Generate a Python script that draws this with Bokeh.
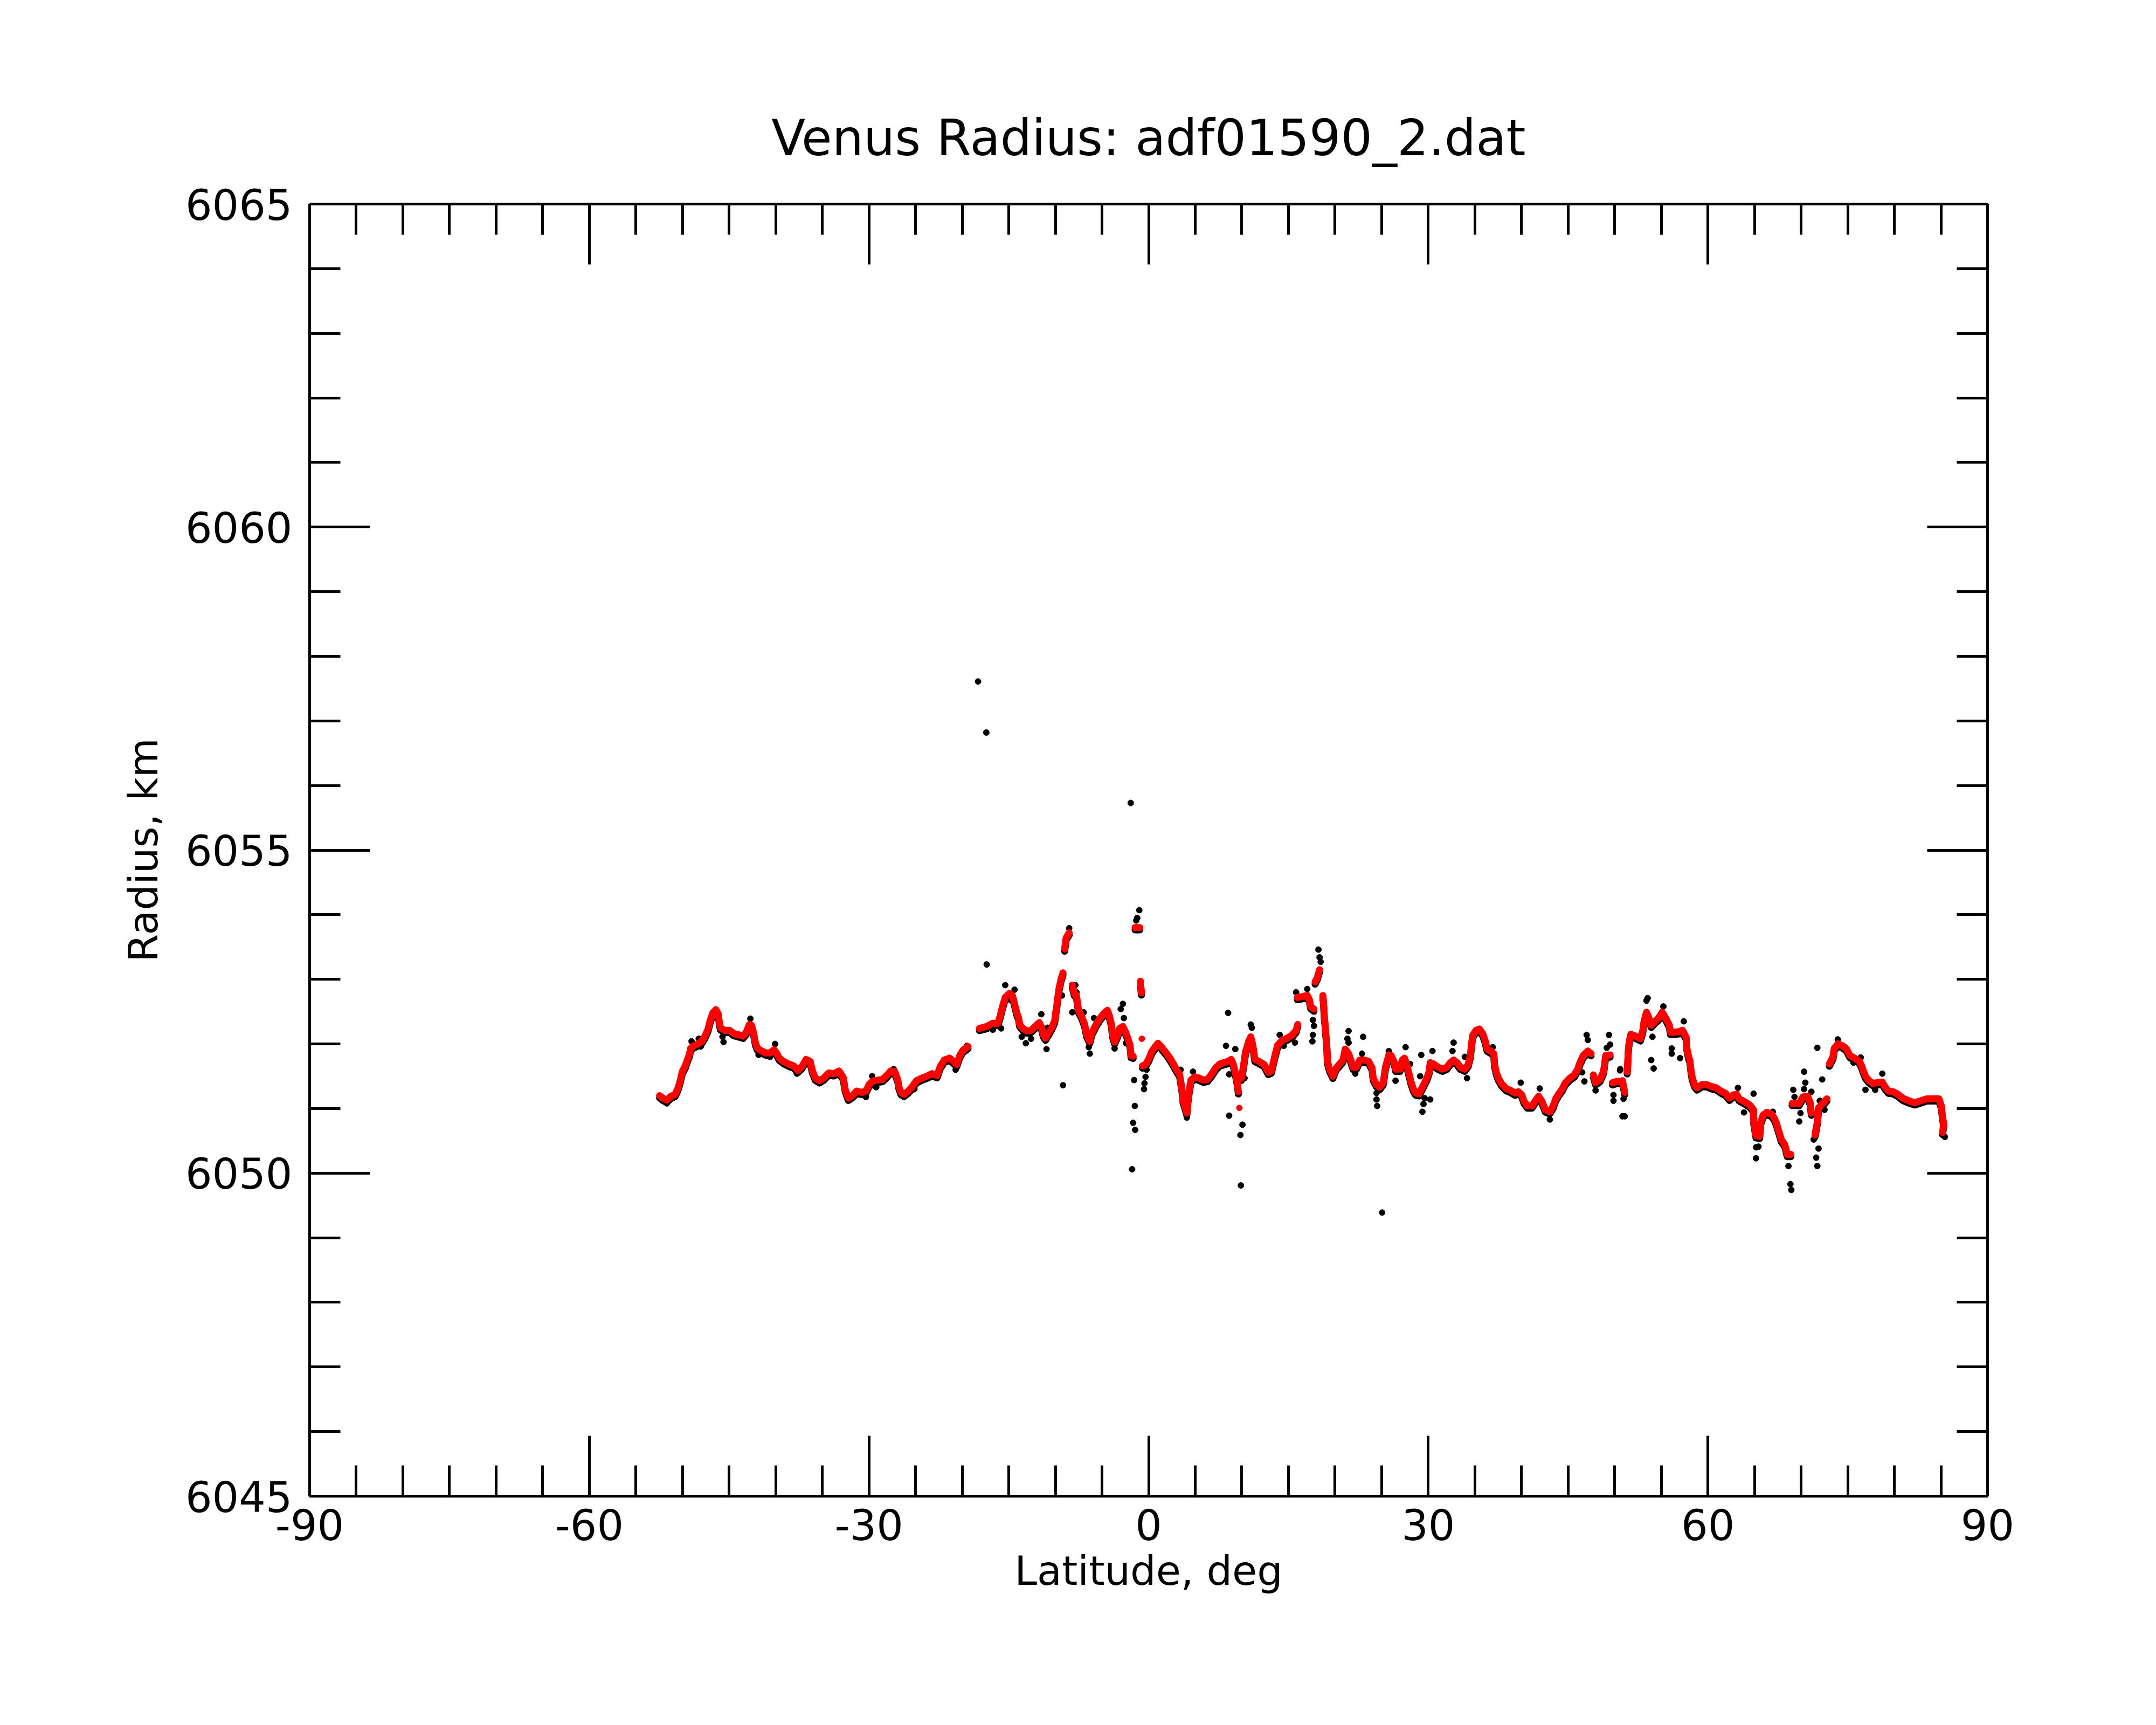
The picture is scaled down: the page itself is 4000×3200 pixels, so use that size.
import math
from bokeh.plotting import figure
from bokeh.models import Range1d, FixedTicker, LinearAxis
from bokeh.embed import file_html
from bokeh.resources import INLINE

# ---------------- data ----------------
title_text = "Venus Radius: adf01590_2.dat"
x_label = "Latitude, deg"
y_label = "Radius, km"
x_major = [-90, -60, -30, 0, 30, 60, 90]
x_major_labels = ["-90", "-60", "-30", "0", "30", "60", "90"]
x_minor = list(range(-90, 91, 5))
y_major = [6045, 6050, 6055, 6060, 6065]
y_major_labels = ["6045", "6050", "6055", "6060", "6065"]
y_minor = list(range(6045, 6066))

# filtered profile (red)
red_lat = [
    -52.46, -52.13, -51.69, -51.24, -50.80, -50.47, -50.25, -50.03, -49.70, -49.47,
    -49.25, -49.14, -48.81, -48.37, -47.93, -47.59, -47.26, -47.04, -46.75, -46.42,
    -46.15, -46.04, -45.93, -45.49, -44.94, -44.49, -43.94, -43.50, -43.17, -42.83,
    -42.61, -42.39, -42.17, -41.95, -41.51, -41.06, -40.62, -40.18, -39.96, -39.62,
    -39.18, -38.63, -38.07, -37.63, -37.19, -36.75, -36.30, -36.08, -35.75, -35.31,
    -34.87, -34.31, -33.76, -33.21, -32.76, -32.54, -32.21, -31.77, -31.32, -30.77,
    -30.33, -29.99, -29.55, -29.00, -28.56, -28.11, -27.67, -27.23, -26.90, -26.79,
    -26.57, -26.23, -25.79, -25.35, -24.91, -24.35, -23.80, -23.25, -22.69, -22.36,
    -21.92, -21.36, -20.92, -20.59, -20.26, -19.93, -19.37,
    -18.15, -17.37, -16.71, -16.16, -15.93, -15.71, -15.38, -14.94, -14.61, -14.38,
    -14.16, -13.94, -13.83, -13.50, -13.06, -12.61, -12.17, -11.73, -11.51, -11.29,
    -11.06, -10.73, -10.40, -10.07, -9.96, -9.85, -9.74, -9.63, -9.40, -9.18,
    -9.01, -8.85, -8.52, -8.19, -7.97, -7.74, -7.52, -7.19, -6.86, -6.64,
    -6.31, -6.09, -5.64, -5.20, -4.76, -4.42, -4.20, -3.98, -3.87, -3.65,
    -3.32, -3.10, -2.76, -2.43, -2.21, -1.99, -1.88, -1.66, -1.45, -1.20,
    -0.95, -0.88, -0.77, -0.73, -0.66, -0.33, 0.00, 0.33, 0.67, 1.00,
    1.33, 1.66, 2.00, 2.33, 2.66, 3.00, 3.32, 3.48, 3.61, 3.70,
    3.88, 4.10, 4.21, 4.36, 4.54, 4.98, 5.43, 5.87, 6.31, 6.75,
    7.20, 7.64, 8.08, 8.53, 8.86, 9.08, 9.30, 9.52, 9.63, 9.74,
    9.96, 10.18, 10.40, 10.74, 10.96, 11.18, 11.40, 11.84, 12.40, 12.84,
    13.17, 13.50, 13.84,
    14.38, 14.86, 15.34, 15.82, 15.99, 15.96, 16.42, 17.02, 17.26, 17.38,
    17.74, 17.86, 18.10, 18.34, 18.70, 18.77, 18.86, 18.94, 18.98, 19.06,
    19.13, 19.18, 19.41, 19.77, 20.13, 20.49, 20.85, 21.09, 21.45, 21.69,
    21.93, 22.29, 22.65, 23.13, 23.61, 23.97, 24.09, 24.45, 24.81, 25.17,
    25.41, 25.77, 26.01, 26.37, 26.50, 26.97, 27.21, 27.45, 27.69, 27.93,
    28.17, 28.41, 28.65, 29.01, 29.37, 29.61, 29.85, 30.09, 30.21, 30.57,
    31.05, 31.53, 32.00, 32.36, 32.72, 33.08, 33.44, 33.92, 34.28, 34.52,
    34.64, 34.76, 35.12, 35.48, 35.84, 36.08, 36.32, 36.68, 37.04, 37.10,
    37.28, 37.52, 37.88, 38.36, 38.84, 39.32, 39.68, 40.04, 40.28, 40.64,
    41.12, 41.48, 41.84, 42.20, 42.56, 43.04, 43.40, 43.64, 44.00, 44.36,
    44.71, 45.19, 45.67, 46.03, 46.27, 46.63, 47.11, 47.47, 47.71, 47.95,
    48.43, 48.79, 48.91, 49.03, 49.51, 49.75, 50.23, 50.71,
    50.83, 51.08, 51.34, 51.39, 51.47, 51.55, 51.73, 52.25, 52.76, 53.02,
    53.15, 53.41, 53.67, 53.92, 54.31, 54.70, 55.09, 55.47, 55.86, 55.99,
    56.38, 56.89, 57.28, 57.67, 57.75, 57.93, 58.06, 58.18, 58.31, 58.57,
    58.83, 59.35, 59.86, 60.38, 60.90, 61.41, 61.93, 62.32, 62.70, 63.09,
    63.35, 63.74, 64.12, 64.51, 64.90, 64.92, 65.16, 65.54, 65.67, 65.93,
    66.32, 66.83, 67.09, 67.35, 67.61, 67.87, 68.25, 68.51, 68.90, 69.03,
    69.40, 69.80, 70.19, 70.71, 70.97, 71.10, 71.48, 71.74, 71.87, 72.26,
    72.77, 73.03, 73.42, 73.55, 73.94, 74.45, 74.84, 75.23, 75.74, 76.26,
    76.52, 76.65, 76.90, 77.29, 77.68, 78.20, 78.71, 78.97, 79.36, 79.87,
    80.39, 80.90, 81.55, 82.20, 82.84, 83.49, 84.13, 84.78, 85.04, 85.17,
    85.30, 85.17,
]
red_r = [
    6051.20, 6051.16, 6051.13, 6051.19, 6051.22, 6051.32, 6051.43, 6051.57, 6051.66, 6051.76,
    6051.84, 6051.93, 6051.97, 6052.00, 6052.04, 6052.12, 6052.23, 6052.36, 6052.48, 6052.53,
    6052.46, 6052.32, 6052.25, 6052.21, 6052.21, 6052.16, 6052.14, 6052.12, 6052.18, 6052.30,
    6052.29, 6052.18, 6052.01, 6051.93, 6051.89, 6051.86, 6051.86, 6051.91, 6051.87, 6051.78,
    6051.73, 6051.69, 6051.66, 6051.59, 6051.65, 6051.76, 6051.73, 6051.59, 6051.47, 6051.43,
    6051.47, 6051.55, 6051.54, 6051.58, 6051.48, 6051.29, 6051.16, 6051.20, 6051.27, 6051.25,
    6051.27, 6051.37, 6051.43, 6051.44, 6051.45, 6051.51, 6051.58, 6051.57, 6051.44, 6051.34,
    6051.25, 6051.22, 6051.27, 6051.34, 6051.43, 6051.47, 6051.50, 6051.54, 6051.51, 6051.65,
    6051.75, 6051.78, 6051.73, 6051.68, 6051.82, 6051.90, 6051.96,
    6052.24, 6052.27, 6052.32, 6052.32, 6052.43, 6052.56, 6052.72, 6052.78, 6052.75, 6052.62,
    6052.49, 6052.40, 6052.30, 6052.24, 6052.20, 6052.21, 6052.27, 6052.33, 6052.27, 6052.14,
    6052.09, 6052.17, 6052.25, 6052.36, 6052.49, 6052.59, 6052.72, 6052.84, 6053.00, 6053.10,
    6053.47, 6053.64, 6053.72, 6052.91, 6052.78, 6052.75, 6052.52, 6052.43, 6052.30, 6052.14,
    6052.04, 6052.17, 6052.30, 6052.40, 6052.48, 6052.52, 6052.43, 6052.30, 6052.14, 6052.03,
    6052.14, 6052.24, 6052.27, 6052.17, 6052.08, 6051.98, 6051.82, 6051.81, 6053.80, 6053.80,
    6053.80, 6052.97, 6052.79, 6052.08, 6051.66, 6051.68, 6051.76, 6051.88, 6051.95, 6052.01,
    6051.96, 6051.90, 6051.84, 6051.77, 6051.69, 6051.60, 6051.53, 6051.39, 6051.26, 6051.12,
    6051.04, 6050.93, 6051.12, 6051.28, 6051.44, 6051.49, 6051.47, 6051.44, 6051.45, 6051.53,
    6051.63, 6051.69, 6051.71, 6051.73, 6051.76, 6051.69, 6051.56, 6051.39, 6051.26, 6051.01,
    6051.47, 6051.66, 6051.88, 6052.04, 6052.11, 6051.98, 6051.76, 6051.73, 6051.68, 6051.56,
    6051.58, 6051.79, 6051.98,
    6052.06, 6052.09, 6052.13, 6052.21, 6052.30, 6052.72, 6052.73, 6052.75, 6052.68, 6052.58,
    6052.54, 6052.96, 6053.03, 6053.15, 6052.75, 6052.63, 6052.40, 6052.30, 6052.20, 6052.08,
    6051.94, 6051.73, 6051.61, 6051.50, 6051.63, 6051.69, 6051.75, 6051.92, 6051.85, 6051.75,
    6051.64, 6051.64, 6051.75, 6051.75, 6051.73, 6051.63, 6051.47, 6051.37, 6051.33, 6051.40,
    6051.64, 6051.83, 6051.82, 6051.71, 6051.61, 6051.61, 6051.75, 6051.78, 6051.68, 6051.54,
    6051.40, 6051.30, 6051.24, 6051.23, 6051.33, 6051.40, 6051.47, 6051.57, 6051.71, 6051.69,
    6051.64, 6051.61, 6051.64, 6051.71, 6051.75, 6051.71, 6051.64, 6051.61, 6051.68, 6051.82,
    6051.99, 6052.13, 6052.21, 6052.23, 6052.16, 6052.06, 6051.92, 6051.89, 6051.85, 6051.69,
    6051.57, 6051.47, 6051.38, 6051.31, 6051.28, 6051.24, 6051.26, 6051.21, 6051.11, 6051.04,
    6051.04, 6051.12, 6051.19, 6051.11, 6050.98, 6050.95, 6051.04, 6051.14, 6051.23, 6051.30,
    6051.40, 6051.47, 6051.52, 6051.61, 6051.71, 6051.82, 6051.89, 6051.85, 6051.52, 6051.40,
    6051.45, 6051.57, 6051.68, 6051.82, 6051.83, 6051.40, 6051.42, 6051.42,
    6051.43, 6051.25, 6051.57, 6051.68, 6051.93, 6052.03, 6052.15, 6052.12, 6052.08, 6052.21,
    6052.35, 6052.49, 6052.40, 6052.29, 6052.35, 6052.40, 6052.49, 6052.40, 6052.29, 6052.18,
    6052.18, 6052.19, 6052.21, 6052.10, 6051.93, 6051.80, 6051.75, 6051.60, 6051.48, 6051.37,
    6051.32, 6051.37, 6051.37, 6051.34, 6051.32, 6051.27, 6051.23, 6051.16, 6051.21, 6051.22,
    6051.15, 6051.12, 6051.09, 6051.05, 6050.98, 6050.79, 6050.58, 6050.57, 6050.79, 6050.90,
    6050.94, 6050.91, 6050.86, 6050.77, 6050.65, 6050.52, 6050.44, 6050.29, 6050.29, 6051.08,
    6051.08, 6051.08, 6051.18, 6051.19, 6051.09, 6050.93, 6050.59, 6050.79, 6051.01, 6051.07,
    6051.15, 6051.69, 6051.80, 6051.93, 6052.00, 6051.97, 6051.93, 6051.82, 6051.78, 6051.73,
    6051.65, 6051.59, 6051.50, 6051.43, 6051.39, 6051.40, 6051.41, 6051.34, 6051.27, 6051.26,
    6051.22, 6051.16, 6051.12, 6051.09, 6051.12, 6051.15, 6051.15, 6051.15, 6051.04, 6050.87,
    6050.76, 6050.63,
]

# raw measurements visible outside the filtered profile (black)
raw_lat = [
    -51.69, -50.80, -49.03, -48.26, -48.04, -45.71, -45.60, -42.72, -41.84, -40.62,
    -40.07, -38.52, -37.74, -33.87, -30.33, -29.66, -29.22, -27.34, -26.34, -25.13,
    -22.80, -20.70, -19.48, -18.30, -17.41, -1.92,
    -17.37, -15.38, -14.38, -14.83, -16.71, -15.82, -13.61, -13.17, -12.61, -11.51,
    -10.95, -10.84, -9.18, -9.29, -8.52, -7.86, -7.74, -8.19, -6.97, -5.86,
    -6.31, -6.42, -3.65, -2.76, -2.99, -2.65, -2.43, -1.00, -1.22, -1.33,
    -1.55, -1.48, -1.66, -1.44, -1.77, -0.22, -0.33, -0.44, -0.49, 4.10,
    3.43, 4.76, 8.53, 8.30, 8.64, 9.30, 9.19, 8.64, 10.29, 10.07,
    9.85, 9.90, 10.96, 11.07, 12.95, 14.06,
    18.22, 18.34, 18.46, 15.82, 17.02, 17.62, 17.74, 17.62, 17.57, 15.70,
    14.50, 21.45, 21.33, 21.45, 23.01, 22.89, 22.17, 24.45, 24.45, 24.52,
    25.05, 25.77, 27.57, 27.33, 26.49, 28.05, 29.13, 29.25, 30.45, 29.13,
    29.61, 29.49, 29.37, 30.21, 31.53, 32.72, 32.60, 33.92, 34.16, 36.92,
    39.92, 41.96, 43.04, 46.99, 47.11, 46.75, 46.51, 47.95, 49.39, 49.51,
    49.15, 49.87, 49.87, 50.59, 50.83,
    53.54, 53.41, 55.22, 54.05, 53.92, 54.18, 56.12, 56.12, 57.02, 57.41,
    51.08, 50.95, 50.57, 63.22, 63.87, 64.90, 65.16, 65.16, 65.42, 66.96,
    68.64, 68.85, 68.95, 69.16, 69.29, 69.93, 69.80, 70.32, 70.45, 70.32,
    71.10, 70.97, 71.35, 71.61, 71.74, 71.87, 71.74, 72.26, 72.00, 72.51,
    76.90, 77.94, 78.71, 75.61, 76.39, 85.42, 73.94,
]
raw_r = [
    6051.08, 6051.18, 6052.04, 6052.08, 6051.96, 6052.11, 6052.03, 6052.39, 6051.83, 6051.80,
    6052.00, 6051.64, 6051.54, 6051.50, 6051.18, 6051.50, 6051.33, 6051.61, 6051.19, 6051.30,
    6051.48, 6051.60, 6051.97, 6057.61, 6056.82, 6055.73,
    6053.23, 6052.91, 6052.84, 6052.68, 6052.22, 6052.24, 6052.11, 6052.01, 6052.08, 6052.46,
    6051.92, 6052.25, 6051.36, 6052.75, 6053.79, 6052.91, 6052.80, 6052.49, 6052.49, 6052.40,
    6051.85, 6051.95, 6051.93, 6052.62, 6052.54, 6052.40, 6052.01, 6054.07, 6053.95, 6053.91,
    6051.44, 6051.04, 6050.78, 6050.67, 6050.06, 6051.60, 6051.49, 6051.39, 6051.30, 6050.86,
    6051.60, 6051.57, 6052.48, 6051.97, 6050.89, 6051.92, 6051.53, 6051.53, 6051.47, 6050.75,
    6050.59, 6049.81, 6052.30, 6052.25, 6051.53, 6052.14,
    6053.46, 6053.34, 6053.27, 6052.80, 6052.85, 6052.37, 6052.28, 6052.14, 6052.04, 6052.02,
    6051.97, 6052.20, 6052.08, 6052.02, 6052.11, 6051.85, 6051.54, 6051.24, 6051.14, 6051.04,
    6049.39, 6051.89, 6051.95, 6051.64, 6051.43, 6051.69, 6051.50, 6051.83, 6051.89, 6051.26,
    6051.16, 6051.07, 6050.95, 6051.14, 6051.57, 6052.02, 6051.89, 6051.80, 6051.47, 6051.95,
    6051.40, 6051.31, 6050.83, 6052.14, 6052.06, 6051.42, 6051.56, 6051.28, 6052.14, 6051.99,
    6051.94, 6051.21, 6051.12, 6051.61, 6050.88,
    6052.71, 6052.67, 6052.58, 6052.11, 6051.75, 6051.62, 6051.93, 6051.85, 6051.78, 6052.35,
    6050.88, 6051.15, 6051.59, 6051.32, 6050.94, 6051.23, 6050.40, 6050.23, 6050.41, 6050.95,
    6050.11, 6049.83, 6049.74, 6051.29, 6051.18, 6050.93, 6050.80, 6051.57, 6051.40, 6051.30,
    6051.26, 6051.01, 6050.52, 6050.24, 6050.11, 6050.38, 6051.94, 6051.45, 6051.12, 6050.98,
    6051.29, 6051.29, 6051.54, 6051.71, 6051.79, 6050.56, 6052.07,
]

# ---------------- figure ----------------
W, H = 3980, 3180
FL, FR, FT, FB = 574, 3687, 378, 2775  # frame edges in canvas px

p = figure(width=W, height=H, output_backend="svg", toolbar_location=None,
           x_range=Range1d(-90, 90), y_range=Range1d(6045, 6065),
           min_border_left=FL, min_border_right=W - FR,
           min_border_top=FT, min_border_bottom=H - FB,
           title=title_text)
p.outline_line_color = None
p.grid.visible = False
p.background_fill_color = "white"
p.border_fill_color = "white"

# slightly shifted range used for the dark under-layer of the dense profile
p.extra_y_ranges = {"under": Range1d(6045.035, 6065.035)}

p.title.text_font = "DejaVu Sans"
p.title.text_font_size = "92px"
p.title.text_font_style = "normal"
p.title.text_color = "black"
p.title.align = "center"
p.title.standoff = 137

p.add_layout(LinearAxis(), "above")
p.add_layout(LinearAxis(), "right")

FONT = "DejaVu Sans"


def style_axis(ax, major, minor, labels):
    ax.ticker = FixedTicker(ticks=major, minor_ticks=minor)
    ax.axis_line_width = 5
    ax.axis_line_color = "black"
    ax.major_tick_in = 112
    ax.major_tick_out = 0
    ax.minor_tick_in = 57
    ax.minor_tick_out = 0
    ax.major_tick_line_width = 5
    ax.minor_tick_line_width = 5
    ax.major_tick_line_color = "black"
    ax.minor_tick_line_color = "black"
    ax.major_label_text_font = FONT
    ax.major_label_text_font_size = "78px"
    ax.major_label_text_color = "black"
    ax.axis_label_text_font = FONT
    ax.axis_label_text_font_size = "75px"
    ax.axis_label_text_font_style = "normal"
    ax.axis_label_text_color = "black"
    ax.major_label_overrides = {t: lab for t, lab in zip(major, labels)}


for ax in p.xaxis:
    style_axis(ax, x_major, x_minor, x_major_labels if ax is p.below[0] else [""] * len(x_major))
for ax in p.yaxis:
    style_axis(ax, y_major, y_minor, y_major_labels if ax is p.left[0] else [""] * len(y_major))

bx = p.below[0]
bx.major_label_standoff = 23
bx.axis_label = x_label
bx.axis_label_standoff = 10

ly = p.left[0]
ly.major_label_standoff = 32
ly.axis_label = y_label
ly.axis_label_standoff = 31

# ---------------- marks ----------------
px_x = (FR - FL) / 180.0
px_y = (FB - FT) / 20.0
seg_x, seg_y = [], []
cx, cy = [red_lat[0]], [red_r[0]]
for i in range(1, len(red_lat)):
    d = math.hypot((red_lat[i] - red_lat[i - 1]) * px_x, (red_r[i] - red_r[i - 1]) * px_y)
    if d > 30:
        seg_x.append(cx)
        seg_y.append(cy)
        cx, cy = [], []
    cx.append(red_lat[i])
    cy.append(red_r[i])
seg_x.append(cx)
seg_y.append(cy)

p.multi_line(seg_x, seg_y, line_color="black", line_width=13,
             line_cap="round", line_join="round", y_range_name="under")
p.scatter(raw_lat, raw_r, size=11, color="black", line_color="black")
p.multi_line(seg_x, seg_y, line_color="#ff0000", line_width=13,
             line_cap="round", line_join="round")
p.scatter(red_lat, red_r, size=11, color="#ff0000", line_color="#ff0000")

open("out.html", "w").write(file_html(p, INLINE))
